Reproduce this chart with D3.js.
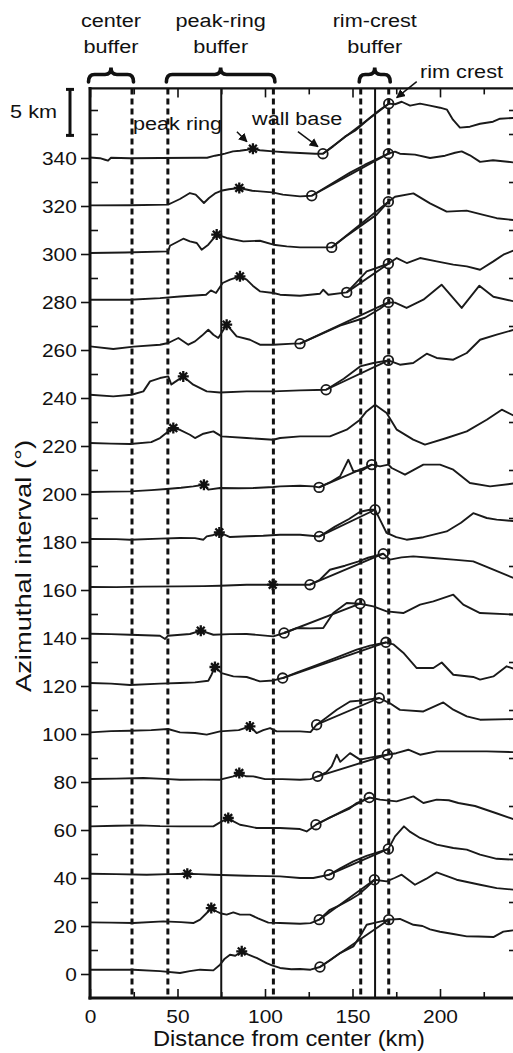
<!DOCTYPE html>
<html>
<head>
<meta charset="utf-8">
<script src="https://cdn.jsdelivr.net/npm/d3@7"></script>
<style>
  body { margin: 0; background: #fff; }
  text { font-family: "Liberation Sans", Arial, sans-serif; fill: #111; }
</style>
</head>
<body>
<svg id="chart"></svg>
<script>
// azimuth of each profile (deg) and the topographic profiles: [distance km, relief km]
const azimuths = [0, 20, 40, 60, 80, 100, 120, 140, 160, 180, 200, 220, 240, 260, 280, 300, 320, 340];

const profile0 = [[0,0.45],[12,0.45],[24.8,0.45],[40,0.3],[51.4,0.1],[57,0.3],[62.9,0.45],[70.5,0.38],[74.3,0.97],[77,1.6],[80,2.01],[83,1.9],[86.7,2.36],[90.5,2.01],[95.2,1.67],[100.9,1.14],[104,0.9],[108.6,0.63],[115,0.5],[120,0.52],[126,0.45],[131.4,0.73],[137,1.4],[142.9,2.18],[150.5,2.88],[154.3,3.92],[158.1,5.13],[163.8,5.38],[170.7,5.66],[177.1,5.73],[184.8,5.13],[190,5.0],[194.3,4.65],[200,4.4],[207.6,4.17],[215.3,3.92],[222,3.9],[230.5,3.85],[236.2,4.41],[244,4.6]];
const profile20 = [[0,0.38],[12,0.35],[24.8,0.31],[41.9,0.48],[52,0.4],[59,0.31],[62.9,0.66],[66.7,1.35],[69.3,1.87],[72.4,1.51],[75,1.3],[78.1,1.18],[81.9,1.42],[85.7,1.18],[91.4,1.18],[96,0.8],[101.9,0.35],[108.6,0.31],[120,0.24],[126,0.3],[131,0.66],[137.1,1.69],[142,2.1],[148.6,2.74],[153.3,3.26],[158,4.0],[162.5,4.82],[169.5,4.65],[174,5.0],[178.1,5.34],[185.7,4.3],[192,4.9],[198.1,5.58],[204,5.2],[209.5,4.82],[222.9,4.3],[232.4,3.95],[244,3.75]];
const profile40 = [[0,0.45],[15,0.4],[32.4,0.34],[45,0.4],[55.6,0.45],[62,0.4],[70.5,0.34],[89.5,0.24],[108.6,0.17],[120,0.0],[127.6,0.0],[136.7,0.34],[143,1.0],[150.5,1.73],[158,2.3],[165.7,2.74],[170.5,3.03],[174.3,4.34],[179.4,5.38],[183,4.8],[188.6,4.17],[198.1,3.47],[207.6,3.12],[215.3,2.95],[222.9,2.43],[232.4,2.0],[244,1.9]];
const profile60 = [[0,0.38],[15,0.45],[28.6,0.48],[40,0.4],[51.4,0.38],[62,0.38],[70.5,0.38],[74.3,0.79],[79,1.25],[82,0.9],[85.7,0.55],[90,0.4],[95.2,0.21],[108.6,0.21],[120,0.1],[123.8,-0.15],[129.1,0.55],[136,1.2],[142.9,1.77],[148,2.2],[152.4,2.81],[159.6,3.38],[165.7,3.16],[175.2,2.98],[184.8,3.5],[190.5,2.81],[198.1,3.16],[205,3.1],[210.5,2.81],[220,2.5],[231.8,1.77],[244,1.0]];
const profile80 = [[0,0.31],[15,0.35],[30.5,0.42],[45,0.3],[51.4,0.24],[65,0.25],[74.3,0.24],[81.9,0.59],[85.3,0.94],[89,0.6],[93.3,0.59],[100,0.3],[110,0.3],[120,0.24],[126,0.3],[130.1,0.59],[135,1.0],[138.1,1.62],[141,2.84],[143,2.1],[148.6,3.01],[154.3,2.33],[163.8,2.67],[169.9,2.84],[175,3.0],[181.9,3.36],[188.6,2.84],[198.1,3.19],[213.3,3.19],[226.7,3.19],[244,3.1]];
const profile100 = [[0,0.17],[12,0.3],[22.9,0.34],[35,0.4],[44.6,0.52],[51.4,0.17],[60,0.1],[66.7,-0.07],[74.3,0.27],[85,0.4],[91.4,0.79],[95.2,0.1],[99,0.4],[102.9,0.62],[106.7,0.27],[120,0.27],[126,0.2],[129.5,0.97],[135,1.7],[141,2.53],[148.6,3.39],[156,3.5],[165.3,3.75],[171.4,3.2],[177.1,2.51],[190.5,2.35],[201.9,3.29],[207.6,2.53],[215.3,1.84],[222.9,1.49],[244,1.56]];
const profile120 = [[0,0.31],[12,0.25],[22.9,0.1],[40,0.25],[51.4,0.31],[60,0.38],[67.6,0.55],[69.5,1.2],[71.4,1.98],[75.2,1.35],[81.9,1.0],[89.5,0.94],[97.1,0.48],[104.7,0.58],[110.1,0.83],[118,1.4],[127.6,2.05],[140,2.9],[152.4,3.78],[160,4.2],[169.1,4.55],[173.3,4.34],[179,3.47],[186.7,1.87],[196.2,1.87],[201,2.45],[207.6,1.17],[219,0.94],[222.9,0.66],[230.5,1.0],[238.1,2.05],[244,1.7]];
const profile140 = [[0,0.45],[12,0.4],[22.9,0.34],[40,0.24],[42.9,-0.1],[44.6,0.24],[57.1,0.42],[63.3,0.76],[70.5,0.34],[80,0.4],[89.5,0.42],[97,0.3],[104.7,0.17],[110.9,0.52],[118.1,1.04],[126,1.0],[133.3,1.04],[139,2.6],[146.7,3.65],[154.3,3.57],[161.9,3.29],[169.5,2.77],[179,2.6],[188.6,3.47],[196.2,3.81],[207.6,4.51],[213.3,3.47],[222.9,2.6],[244,2.43]];
const profile160 = [[0,0.31],[15,0.3],[30,0.35],[51.4,0.38],[65,0.4],[74.3,0.45],[89.5,0.55],[104.4,0.55],[120,0.55],[125.7,0.55],[131.4,1.07],[137.1,2.11],[145.7,2.53],[153.1,2.95],[158.9,3.36],[167.6,3.78],[171.4,3.16],[178,3.4],[184.7,3.5],[196.2,3.33],[207.6,3.16],[219,2.98],[230.5,2.11],[244,1.1]];
const profile180 = [[0,0.31],[15,0.3],[22.9,0.24],[40,0.35],[51.4,0.42],[60,0.4],[64.8,0.24],[66.7,0.58],[70,0.7],[73.9,1.0],[80,0.52],[90,0.6],[99,0.65],[108.6,0.76],[120,0.76],[131.1,0.58],[140,1.6],[148,2.4],[154.3,3.15],[160,3.36],[162.9,3.36],[165.7,2.33],[169.5,0.94],[175,0.5],[180.9,0.24],[190.5,0.5],[203.8,1.1],[212,2.0],[219,3.0],[226.7,2.5],[232.4,2.33],[244,2.15]];
const profile200 = [[0,0.21],[12,0.25],[22.9,0.27],[35,0.4],[43.8,0.52],[52,0.65],[59,0.79],[65.1,0.97],[67.6,0.45],[74.3,0.62],[85,0.6],[93.3,0.62],[104.7,0.73],[108.6,0.79],[120,0.86],[127.6,0.79],[130.9,0.69],[137,1.2],[142.9,1.84],[147.6,3.57],[150.5,2.35],[156.2,2.53],[161,3.06],[165.7,2.88],[170.5,3.06],[172.4,2.71],[180,2.01],[190.5,3.06],[200,3.06],[207.6,2.53],[217.1,1.14],[228.6,0.79],[244,1.14]];
const profile220 = [[0,0.31],[12,0.25],[22.9,0.21],[35,0.4],[40,0.83],[44.7,1.52],[47.6,1.87],[51.4,1.69],[57.1,1.17],[60,0.83],[64.8,1.28],[70.5,1.52],[75.2,1.0],[89.5,0.83],[104.7,0.65],[108.6,0.83],[120,1.0],[137.1,1.0],[146.7,1.7],[154.3,2.74],[158,3.6],[162.9,4.3],[169.5,3.44],[175.3,1.7],[184.7,0.66],[191.4,0.14],[203.8,0.83],[215.3,1.52],[226.7,2.74],[235.3,3.78],[244,3.0]];
const profile240 = [[0,0.34],[13.3,0.17],[23.8,0.34],[30.5,0.69],[34.3,1.73],[40,2.08],[44.7,2.25],[46.5,1.4],[48,1.6],[53.3,2.25],[59,1.39],[66.7,0.69],[74.3,0.58],[89.5,0.69],[104.7,0.69],[120,0.79],[134.9,0.86],[145,2.0],[154.3,3.29],[161.9,3.65],[170.5,3.92],[177.1,3.47],[184.7,3.65],[192.4,4.61],[198.1,4.17],[207.6,3.99],[215.3,4.69],[222.9,6.07],[232.4,6.6],[244,7.2]];
const profile260 = [[0,0.38],[13.3,0.1],[25,0.35],[40,0.55],[44.7,0.73],[50.5,1.25],[56.2,0.55],[60,0.9],[64,1.5],[67.6,2.11],[70.5,1.59],[73.3,1.25],[78.1,2.64],[83.8,1.42],[91.4,1.07],[97.1,0.55],[104.7,0.55],[116.2,0.66],[120,0.66],[142.9,2.53],[157.1,3.36],[165.7,4.3],[170.5,4.96],[174.3,4.93],[180.9,4.38],[190.5,5.24],[200.9,6.8],[212.4,4.38],[222.5,6.7],[230.5,5.55],[244,5.0]];
const profile280 = [[0,0.24],[12,0.24],[22.9,0.24],[40,0.4],[51.4,0.58],[66.3,0.76],[69.1,1.21],[72,0.94],[75.8,1.98],[80,2.33],[85.7,2.67],[89.5,2.33],[93,1.7],[97.1,1.11],[104.8,0.94],[108.6,0.76],[120,0.65],[131.4,0.86],[133.3,1.28],[136.2,0.76],[146.7,1.0],[152,2.0],[158.1,3.19],[163.8,3.54],[170.5,3.99],[175.3,4.58],[181,4.06],[188.6,4.58],[198.1,4.23],[207.6,3.89],[215.3,3.71],[222.9,3.36],[230.5,4.23],[236.2,4.93],[244,5.5]];
const profile300 = [[0,0.1],[20,0.15],[44.6,0.27],[45.7,0.86],[53.3,1.59],[57.1,1.31],[61,1.15],[63.8,0.45],[67.6,0.97],[72.4,2.02],[78.1,1.67],[87.6,1.31],[97.1,1.38],[104.8,0.97],[112.4,0.79],[120,0.69],[138.1,0.69],[146,1.8],[154.3,2.88],[163.8,4.1],[170.5,5.45],[174.3,5.96],[184.8,6.32],[194.3,5.28],[203.8,4.41],[215.2,4.52],[224.8,4.07],[232.4,3.73],[244,3.5]];
const profile320 = [[0,0.06],[22.9,0.08],[44.6,0.14],[46.9,0.34],[51.4,0.73],[57.1,1.35],[60.4,1.18],[65.1,0.31],[68,0.83],[71.8,1.35],[75.6,1.62],[79.4,1.75],[85.3,1.88],[92.7,1.59],[104.2,1.42],[110.2,1.18],[120,1.0],[126.7,1.07],[137.1,2.22],[148.6,3.47],[157.1,4.3],[165.7,5.03],[170.5,5.45],[174.3,5.66],[177.1,5.45],[185.7,5.35],[194.3,5.0],[202.9,5.24],[208.6,5.55],[212.4,5.69],[217.1,5.28],[222.9,4.6],[230.3,4.77],[244,4.5]];
const profile340 = [[0,0.06],[5.7,-0.02],[8.6,-0.18],[10.3,-0.28],[12,0.03],[22.9,-0.02],[40,0.0],[62.9,0.03],[66.9,0.03],[71.4,0.24],[74.3,0.34],[77.1,0.45],[81.7,0.69],[85.7,0.76],[89.7,0.86],[93.1,0.97],[97.1,0.81],[104.6,0.69],[111.4,0.6],[120,0.52],[128.6,0.45],[133.1,0.45],[138.9,1.21],[145.7,2.22],[151.4,2.84],[154.3,3.29],[160,4.2],[165.7,5.03],[170.7,5.66],[174.3,5.6],[178.1,5.86],[182.9,5.45],[188.6,5.66],[194.3,5.45],[200,5.24],[204,5.03],[207.4,3.99],[211.4,3.16],[217.1,3.26],[222.9,3.57],[230.3,3.78],[234.3,4.09],[244,4.2]];

const profiles = [profile0, profile20, profile40, profile60, profile80, profile100, profile120, profile140, profile160,
  profile180, profile200, profile220, profile240, profile260, profile280, profile300, profile320, profile340];

// picked features per profile: [distance km, relief km]
const peakRing = [[86.7,2.36],[69.3,1.87],[55.6,0.45],[79,1.25],[85.3,0.94],[91.4,0.79],[71.4,1.98],[63.3,0.76],[104.4,0.55],
  [73.9,1.0],[65.1,0.97],[47.6,1.87],[53.3,2.25],[78.1,2.64],[85.7,2.67],[72.4,2.02],[85.3,1.88],[93.1,0.97]];
const wallBase = [[131.4,0.73],[131,0.66],[136.7,0.34],[129.1,0.55],[130.1,0.59],[129.5,0.97],[110.1,0.83],[110.9,0.52],[125.7,0.55],
  [131.1,0.58],[130.9,0.69],null,[134.9,0.86],[120,0.66],[146.7,1.0],[138.1,0.69],[126.7,1.07],[133.1,0.45]];
const rimCrest = [[170.7,5.66],[162.5,4.82],[170.5,3.03],[159.6,3.38],[169.9,2.84],[165.3,3.75],[169.1,4.55],[154.3,3.57],[167.6,3.78],
  [162.9,3.36],[161,3.06],null,[170.5,3.92],[170.5,4.96],[170.5,3.99],[170.5,5.45],[170.5,5.45],[170.7,5.66]];

// buffers and reference radii (km)
const dashedKm = [24, 44.5, 104.8, 154.7, 170.7];
const solidKm = [75, 162.9];
const buffers = [
  { lines: ["center", "buffer"], from: 0, to: 24 },
  { lines: ["peak-ring", "buffer"], from: 44.5, to: 104.8 },
  { lines: ["rim-crest", "buffer"], from: 154.7, to: 170.7 }
];

const xTickLabels = [0, 50, 100, 150, 200];
const xMinorTicks = [25, 75, 125, 175, 225];
const yTickLabels = [0, 20, 40, 60, 80, 100, 120, 140, 160, 180, 200, 220, 240, 260, 280, 300, 320, 340];
const yMinorTicks = [10, 30, 50, 70, 90, 110, 130, 150, 170, 190, 210, 230, 250, 270, 290, 310, 330, 350, 360];

const kmPerStep = 5;   // 5 km of relief = one 20 deg step
const degPerKm = 20 / kmPerStep;

const W = 513, H = 1053;
const plotL = 90, plotR = 517, plotT = 88.4, plotB = 998;

const svg = d3.select("#chart").attr("width", W).attr("height", H);

const x = d3.scaleLinear().domain([0, 244]).range([plotL, plotR]);
const y = d3.scaleLinear().domain([-10, 369]).range([plotB, plotT]);

const defs = svg.append("defs");
defs.append("clipPath").attr("id", "plot")
  .append("rect").attr("x", plotL).attr("y", plotT).attr("width", plotR - plotL).attr("height", plotB - plotT);

defs.append("marker")
  .attr("id", "head").attr("viewBox", "0 0 10 10").attr("refX", 9).attr("refY", 5)
  .attr("markerWidth", 9).attr("markerHeight", 9).attr("markerUnits", "userSpaceOnUse")
  .attr("orient", "auto")
  .append("path").attr("d", "M0,0L10,5L0,10Z").attr("fill", "#111");

const stroke = "#1a1a1a";

// reference radii
svg.append("g").selectAll("line").data(dashedKm).join("line")
  .attr("x1", d => x(d)).attr("x2", d => x(d)).attr("y1", plotT).attr("y2", plotB)
  .attr("stroke", "#111").attr("stroke-width", 3).attr("stroke-dasharray", "6,4");
svg.append("g").selectAll("line").data(solidKm).join("line")
  .attr("x1", d => x(d)).attr("x2", d => x(d)).attr("y1", plotT).attr("y2", plotB)
  .attr("stroke", "#111").attr("stroke-width", 2);

// profiles
const py = (a, h) => y(a + h * degPerKm);
const line = d3.line().x(d => x(d[0])).y(d => d[1]);

const plot = svg.append("g").attr("clip-path", "url(#plot)");
plot.selectAll(".profile").data(profiles).join("path")
  .attr("class", "profile")
  .attr("d", (p, i) => line(p.map(d => [d[0], py(azimuths[i], d[1])])))
  .attr("fill", "none").attr("stroke", stroke).attr("stroke-width", 1.9).attr("stroke-linejoin", "round");

// wall base to rim crest segments
const walls = azimuths.map((a, i) => ({ a, w: wallBase[i], r: rimCrest[i] })).filter(d => d.w && d.r);
plot.selectAll(".wall").data(walls).join("line")
  .attr("x1", d => x(d.w[0])).attr("y1", d => py(d.a, d.w[1]))
  .attr("x2", d => x(d.r[0])).attr("y2", d => py(d.a, d.r[1]))
  .attr("stroke", stroke).attr("stroke-width", 1.9);

const circles = walls.flatMap(d => [[d.w[0], py(d.a, d.w[1])], [d.r[0], py(d.a, d.r[1])]]);
plot.selectAll(".pick").data(circles).join("circle")
  .attr("cx", d => x(d[0])).attr("cy", d => d[1]).attr("r", 4.8)
  .attr("fill", "none").attr("stroke", stroke).attr("stroke-width", 1.8);

// peak ring asterisks
const star = "M-5.5,0L5.5,0M0,-5.5L0,5.5M-3.9,-3.9L3.9,3.9M-3.9,3.9L3.9,-3.9";
plot.selectAll(".star").data(peakRing).join("path")
  .attr("transform", (d, i) => `translate(${x(d[0])},${py(azimuths[i], d[1])})`)
  .attr("d", star).attr("stroke", "#111").attr("stroke-width", 2.3).attr("fill", "none");

// axes
const tickText = g => g.selectAll("text").attr("font-size", 19).attr("fill", "#111");

svg.append("g").attr("transform", `translate(${plotL},0)`)
  .call(d3.axisLeft(y).tickValues(yTickLabels).tickSize(9).tickPadding(3).tickSizeOuter(0))
  .call(g => g.select(".domain").remove())
  .call(g => g.selectAll("line").attr("stroke", "#111").attr("stroke-width", 1.6))
  .call(tickText)
  .call(g => g.selectAll("text").attr("font-family", "Liberation Sans").attr("transform", "scale(1.1,1)"));

svg.append("g").attr("transform", `translate(${plotL},0)`)
  .call(d3.axisLeft(y).tickValues(yMinorTicks).tickSize(-8).tickFormat("").tickSizeOuter(0))
  .call(g => g.select(".domain").remove())
  .call(g => g.selectAll("line").attr("stroke", "#111").attr("stroke-width", 1.6));

svg.append("g").attr("transform", `translate(${plotR},0)`)
  .call(d3.axisRight(y).tickValues(yMinorTicks).tickSize(-8).tickFormat("").tickSizeOuter(0))
  .call(g => g.select(".domain").remove())
  .call(g => g.selectAll("line").attr("stroke", "#111").attr("stroke-width", 1.6));

[[d3.axisBottom, plotB, xTickLabels, -9], [d3.axisBottom, plotB, xMinorTicks, -6],
 [d3.axisTop, plotT, xTickLabels, -9], [d3.axisTop, plotT, xMinorTicks, -6]].forEach(([axis, pos, vals, size]) => {
  svg.append("g").attr("transform", `translate(0,${pos})`)
    .call(axis(x).tickValues(vals).tickSize(size).tickFormat("").tickSizeOuter(0))
    .call(g => g.select(".domain").remove())
    .call(g => g.selectAll("line").attr("stroke", "#111").attr("stroke-width", 1.6));
});

svg.append("g").attr("transform", `translate(0,${plotB})`)
  .call(d3.axisBottom(x).tickValues(xTickLabels).tickSize(0).tickSizeOuter(0))
  .call(g => g.select(".domain").remove())
  .call(tickText)
  .call(g => g.selectAll("text").attr("y", 25).attr("dy", 0).attr("font-family", "Liberation Sans")
    .attr("transform", "scale(1.1,1)"));

// frame
const frame = svg.append("g").attr("stroke", "#111").attr("stroke-linecap", "square");
frame.append("line").attr("x1", plotL).attr("x2", plotL).attr("y1", plotT).attr("y2", plotB).attr("stroke-width", 3);
frame.append("line").attr("x1", plotL).attr("x2", plotR).attr("y1", plotB).attr("y2", plotB).attr("stroke-width", 3);
frame.append("line").attr("x1", plotL).attr("x2", plotR).attr("y1", plotT).attr("y2", plotT).attr("stroke-width", 2.4);
frame.append("line").attr("x1", plotR).attr("x2", plotR).attr("y1", plotT).attr("y2", plotB).attr("stroke-width", 2.4);

// axis titles
svg.append("text")
  .attr("x", 289).attr("y", 1046).attr("text-anchor", "middle")
  .attr("font-size", 22).attr("textLength", 272).attr("lengthAdjust", "spacingAndGlyphs")
  .text("Distance from center (km)");

svg.append("text")
  .attr("transform", "translate(31,566) rotate(-90)").attr("text-anchor", "middle")
  .attr("font-size", 22).attr("textLength", 252).attr("lengthAdjust", "spacingAndGlyphs")
  .text("Azimuthal interval (°)");

// buffer braces and labels
function bracePath(x0, x1, yEnd, yBar, yTip) {
  const xm = (x0 + x1) / 2, r = 6;
  return `M${x0},${yEnd}Q${x0},${yBar} ${x0 + r},${yBar}L${xm - r},${yBar}Q${xm},${yBar} ${xm},${yTip}` +
    `Q${xm},${yBar} ${xm + r},${yBar}L${x1 - r},${yBar}Q${x1},${yBar} ${x1},${yEnd}`;
}
const annot = (txt, px, pyy, anchor) => svg.append("text")
  .attr("transform", `translate(${px},${pyy}) scale(1.14,1)`)
  .attr("text-anchor", anchor).attr("font-size", 19).text(txt);

buffers.forEach(b => {
  const x0 = x(b.from) - 1.5, x1 = x(b.to) + 1.5;
  svg.append("path").attr("d", bracePath(x0, x1, 82, 74.5, 67.5))
    .attr("fill", "none").attr("stroke", "#111").attr("stroke-width", 3.6).attr("stroke-linecap", "round");
  annot(b.lines[0], (x0 + x1) / 2, 26.5, "middle");
  annot(b.lines[1], (x0 + x1) / 2, 53, "middle");
});

// scale bar: 5 km of relief
const barX = 70, barTop = y(369), barBot = y(369 - kmPerStep * degPerKm);
const bar = svg.append("g").attr("stroke", "#111").attr("stroke-width", 3);
bar.append("line").attr("x1", barX).attr("x2", barX).attr("y1", barTop).attr("y2", barBot);
bar.append("line").attr("x1", barX - 4).attr("x2", barX + 4).attr("y1", barTop + 1).attr("y2", barTop + 1);
bar.append("line").attr("x1", barX - 4).attr("x2", barX + 4).attr("y1", barBot - 1).attr("y2", barBot - 1);
annot(`${kmPerStep} km`, 57, 118, "end");

// call-outs on the 340 deg profile
const last = azimuths.length - 1, aTop = azimuths[last];
const callouts = [
  { txt: "peak ring", tx: 133, ty: 130, anchor: "start", p: peakRing[last], from: [-16, -17], to: [-6, -7] },
  { txt: "wall base", tx: 252, ty: 125, anchor: "start", p: wallBase[last], from: [-25, -22], to: [-5, -7] },
  { txt: "rim crest", tx: 420, ty: 78, anchor: "start", p: rimCrest[last], from: [28, -22], to: [8, -6] }
];
callouts.forEach(c => {
  const cx = x(c.p[0]), cy = py(aTop, c.p[1]);
  svg.append("line")
    .attr("x1", cx + c.from[0]).attr("y1", cy + c.from[1]).attr("x2", cx + c.to[0]).attr("y2", cy + c.to[1])
    .attr("stroke", "#111").attr("stroke-width", 1.5).attr("marker-end", "url(#head)");
  annot(c.txt, c.tx, c.ty, c.anchor);
});
</script>
</body>
</html>
